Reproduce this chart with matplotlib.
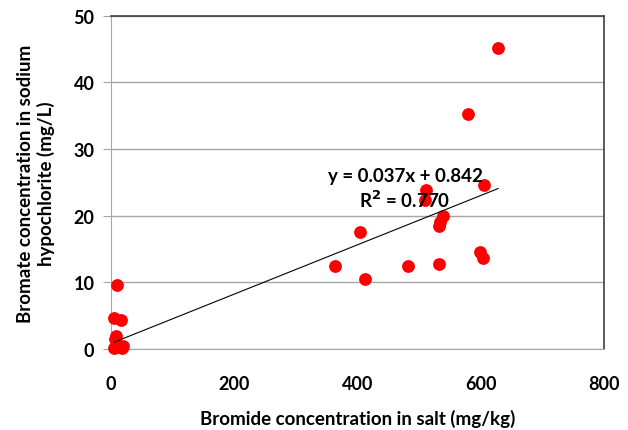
import numpy as np
import matplotlib.pyplot as plt

# bromide in salt (mg/kg) vs bromate in sodium hypochlorite (mg/L)
bromide = [5, 8, 17, 20, 6, 8, 5, 16, 10,
           363, 404, 412, 482, 510, 511, 532, 532, 533, 539,
           579, 598, 604, 605, 628]
bromate = [0.1, 0.3, 0.2, 0.5, 1.5, 2.0, 4.6, 4.4, 9.6,
           12.4, 17.5, 10.5, 12.5, 22.3, 23.8, 12.7, 18.4, 19.0, 19.9,
           35.3, 14.6, 13.6, 24.6, 45.2]
slope = 0.037
intercept = 0.842
r2 = 0.770

xticks = [0, 200, 400, 600, 800]
yticks = [0, 10, 20, 30, 40, 50]

plt.rcParams['font.family'] = ['Lato', 'DejaVu Sans']
plt.rcParams['font.weight'] = 'bold'

fig = plt.figure(figsize=(6.28, 4.31), dpi=100)
ax = fig.add_axes([0.177, 0.188, 0.785, 0.773])

ax.scatter(bromide, bromate, s=85, color='#ff0000', zorder=3, linewidths=0,
           clip_on=False)

# linear trendline over the data range
xl = np.array([min(bromide), max(bromide)])
ax.plot(xl, slope * xl + intercept, color='black', linewidth=0.8, zorder=4)

ax.text(477, 26.0, 'y = 0.037x + 0.842', fontsize=13.5, fontweight='bold',
        ha='center', va='center', zorder=5)
ax.text(477, 22.4, 'R$^\\mathbf{2}$ = %.3f' % r2, fontsize=13.5,
        fontweight='bold', ha='center', va='center', zorder=5)

ax.set_xlim(0, 800)
ax.set_ylim(0, 50)
ax.set_xticks(xticks)
ax.set_yticks(yticks)
ax.grid(axis='y', color='#a6a6a6', linewidth=1)
ax.set_axisbelow(True)

for side in ['left', 'bottom']:
    ax.spines[side].set_color('#a6a6a6')
for side in ['top', 'right']:
    ax.spines[side].set_color('#404040')
    ax.spines[side].set_linewidth(1.2)

ax.tick_params(axis='y', length=6, color='#a6a6a6', pad=6, labelsize=13)
ax.tick_params(axis='x', length=0, pad=19, labelsize=13)

ax.set_xlabel('Bromide concentration in salt (mg/kg)', fontsize=13.5,
              fontweight='bold', labelpad=12)
ax.set_ylabel('Bromate concentration in sodium\nhypochlorite (mg/L)',
              fontsize=13.5, fontweight='bold', labelpad=13)

fig.savefig('out.png', dpi=100)
